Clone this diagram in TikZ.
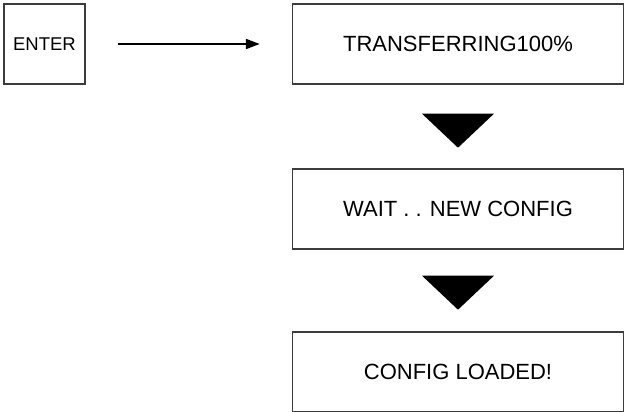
\documentclass[tikz,border=0pt]{standalone}
\usepackage{fontspec}
\setmainfont{Liberation Sans}
\usetikzlibrary{calc,arrows.meta}
\definecolor{boxline}{RGB}{60,60,60}

\begin{document}
\begin{tikzpicture}[x=1pt,y=-1pt,
  screen/.style={draw=boxline,line width=1.4pt,minimum width=331pt,minimum height=80pt,inner sep=0pt,font=\fontsize{22}{26}\selectfont},
  key/.style={draw=boxline,line width=1.4pt,minimum width=81pt,minimum height=80pt,inner sep=0pt,font=\fontsize{18.5}{22}\selectfont}]
  \useasboundingbox (0,0) rectangle (624,412);
  \node[key] (enter) at (44.5,44) {ENTER};
  \node[screen] (transfer) at (458,44) {TRANSFERRING100\%};
  \node[screen] (wait) at (458,209) {WAIT . . NEW CONFIG};
  \node[screen] (loaded) at (458,372) {CONFIG LOADED!};
  \draw[line width=2pt,-{Triangle[length=14pt,width=10pt]},shorten <=32pt,shorten >=32pt] (enter.east) -- (transfer.west);
  % down arrows between the screens
  \fill ($(transfer.south)+(-36,29)$) -- ++(72,0) -- ($(transfer.south)+(0,63)$) -- cycle;
  \fill ($(wait.south)+(-36,26)$) -- ++(72,0) -- ($(wait.south)+(0,60)$) -- cycle;
\end{tikzpicture}
\end{document}
